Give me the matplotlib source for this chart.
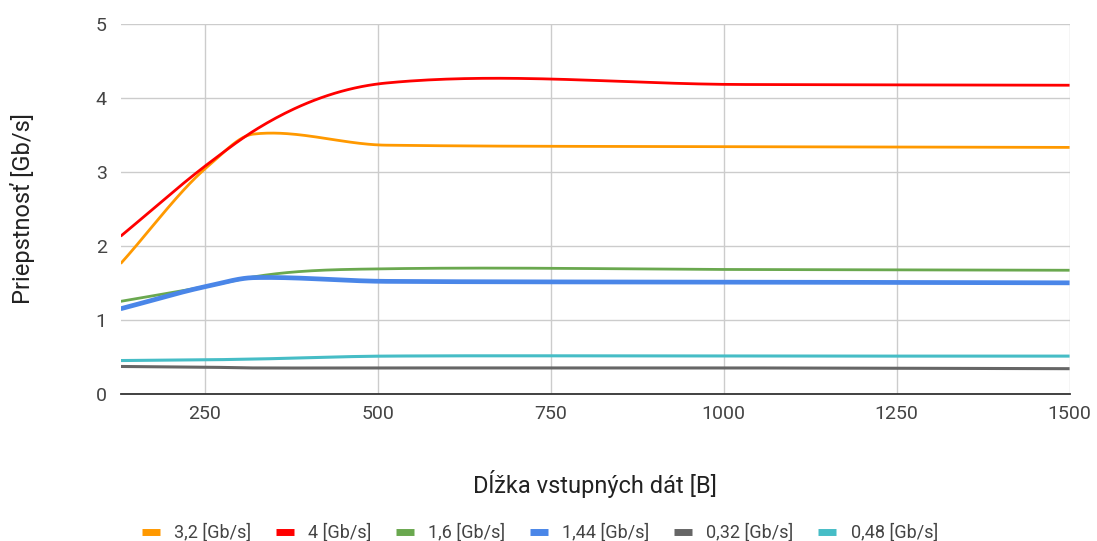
import numpy as np
import matplotlib.pyplot as plt

# dlzka vstupnych dat [B]
dlzka = [128, 256, 320, 512, 1024, 1500]

# priepustnost pre jednotlive rychlosti [Gb/s]
nazvy = ["3,2 [Gb/s]", "4 [Gb/s]", "1,6 [Gb/s]", "1,44 [Gb/s]", "0,32 [Gb/s]", "0,48 [Gb/s]"]
v_3_2 = [1.76, 3.09, 3.51, 3.36, 3.34, 3.33]
v_4 = [2.13, 3.12, 3.55, 4.20, 4.18, 4.17]
v_1_6 = [1.25, 1.46, 1.58, 1.69, 1.68, 1.67]
v_1_44 = [1.15, 1.46, 1.57, 1.52, 1.51, 1.50]
v_0_32 = [0.37, 0.36, 0.35, 0.35, 0.35, 0.34]
v_0_48 = [0.45, 0.46, 0.47, 0.51, 0.51, 0.51]

farby = ["#ff9900", "#ff0000", "#6aa84f", "#4a86e8", "#666666", "#46bdc6"]
hrubky = [2.0, 2.0, 2.0, 3.4, 2.2, 2.2]


def hladka(x, y, n=60):
    # hermitovska krivka; v extremoch dotycnica ako Catmull-Rom, inak parabola cez 3 body
    x = np.asarray(x, float)
    y = np.asarray(y, float)
    h = np.diff(x)
    d = np.diff(y) / h
    m = np.zeros_like(y)
    m[0] = d[0]
    m[-1] = d[-1]
    for i in range(1, len(x) - 1):
        if d[i - 1] * d[i] <= 0:
            m[i] = (y[i + 1] - y[i - 1]) / (x[i + 1] - x[i - 1])
        else:
            par = (h[i] * d[i - 1] + h[i - 1] * d[i]) / (h[i - 1] + h[i])
            lim = 3 * min(abs(d[i - 1]), abs(d[i]))
            m[i] = np.sign(par) * min(abs(par), lim)
    t = np.linspace(0, 1, n)
    h00 = 2 * t**3 - 3 * t**2 + 1
    h10 = t**3 - 2 * t**2 + t
    h01 = -2 * t**3 + 3 * t**2
    h11 = t**3 - t**2
    xs, ys = [], []
    for i in range(len(x) - 1):
        xs.append(x[i] + t * h[i])
        ys.append(h00 * y[i] + h10 * h[i] * m[i] + h01 * y[i + 1] + h11 * h[i] * m[i + 1])
    return np.concatenate(xs), np.concatenate(ys)


plt.rcParams["font.family"] = ["Roboto", "DejaVu Sans"]

fig = plt.figure(figsize=(10.97, 5.41), dpi=100)
ax = fig.add_axes([0.110, 0.272, 0.865, 0.684])

serie = [v_3_2, v_4, v_1_6, v_1_44, v_0_32, v_0_48]
for nazov, hodnoty, farba, lw in zip(nazvy, serie, farby, hrubky):
    xs, ys = hladka(dlzka, hodnoty)
    ax.plot(xs, ys, color=farba, lw=lw, label=nazov, solid_capstyle="butt")

ax.set_xlim(128, 1500)
ax.set_ylim(0, 5)
ax.set_xticks([250, 500, 750, 1000, 1250, 1500])
ax.set_yticks([0, 1, 2, 3, 4, 5])
ax.grid(True, color="#cccccc", lw=1)
ax.set_axisbelow(True)
for s in ["top", "right", "left"]:
    ax.spines[s].set_visible(False)
ax.spines["bottom"].set_color("#333333")
ax.spines["bottom"].set_linewidth(1.3)
ax.tick_params(length=0, labelsize=14, colors="#444444", pad=8)
ax.tick_params(axis="y", pad=10)

ax.set_xlabel("Dĺžka vstupných dát [B]", fontsize=17, color="#222222", labelpad=34)
ax.set_ylabel("Priepstnosť [Gb/s]", fontsize=17, color="#222222", labelpad=44)

leg = fig.legend(loc="lower center", bbox_to_anchor=(0.492, -0.031), ncol=6, frameon=False,
                 fontsize=13, handlelength=1.0, handleheight=0.5, columnspacing=1.35,
                 handletextpad=0.8)
for t in leg.get_texts():
    t.set_color("#444444")
for h in leg.get_lines():
    h.set_linewidth(5)

fig.savefig("out.png", dpi=100)
